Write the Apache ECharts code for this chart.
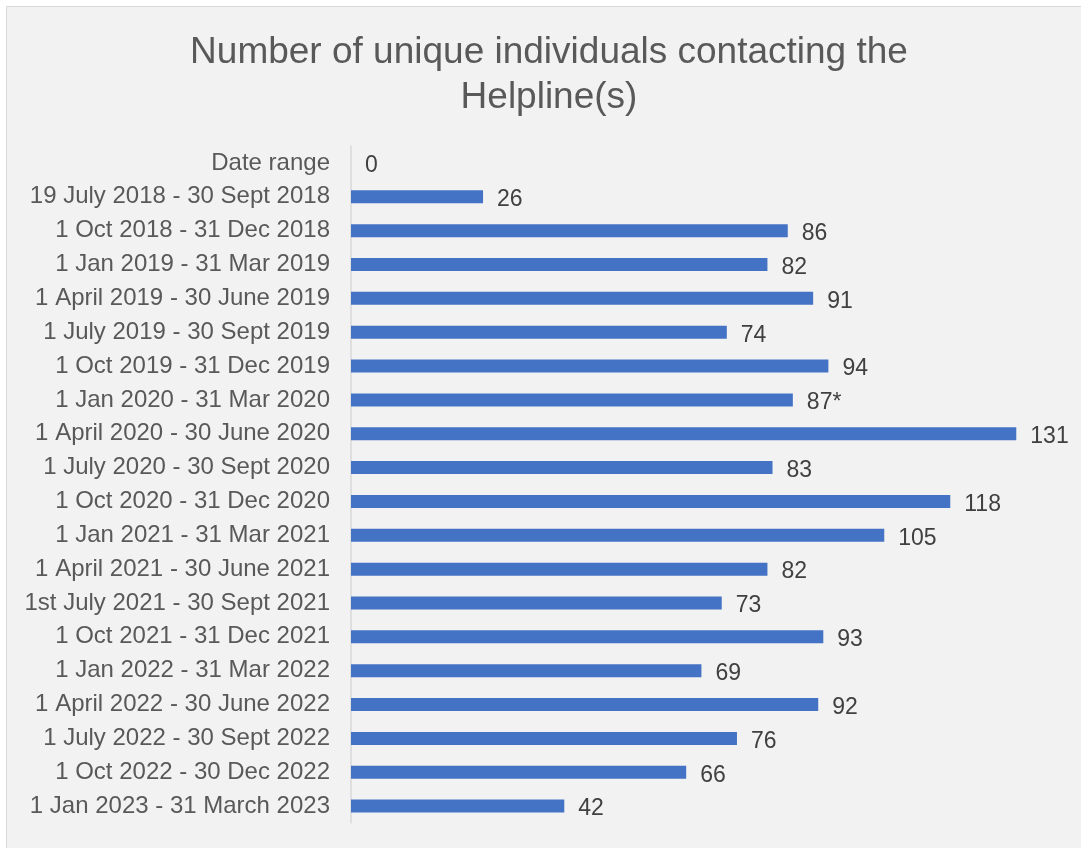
<!DOCTYPE html>
<html>
<head>
<meta charset="utf-8">
<script src="https://cdn.jsdelivr.net/npm/echarts@6/dist/echarts.min.js"></script>
<style>
html,body{margin:0;padding:0;background:#ffffff;}
#frame{position:absolute;left:6px;top:6px;width:1090px;height:850px;background:#f2f2f2;border:1.5px solid #d9d9d9;box-sizing:border-box;}
#chart{position:absolute;left:0;top:0;width:1081px;height:848px;}
</style>
</head>
<body>
<div id="frame"></div>
<div id="chart"></div>
<script>
const titleLines = ['Number of unique individuals contacting the', 'Helpline(s)'];
const categories = [
  'Date range',
  '19 July 2018 - 30 Sept 2018',
  '1 Oct 2018 - 31 Dec 2018',
  '1 Jan 2019 - 31 Mar 2019',
  '1 April 2019 - 30 June 2019',
  '1 July 2019 - 30 Sept 2019',
  '1 Oct 2019 - 31 Dec 2019',
  '1 Jan 2020 - 31 Mar 2020',
  '1 April 2020 - 30 June 2020',
  '1 July 2020 - 30 Sept 2020',
  '1 Oct 2020 - 31 Dec 2020',
  '1 Jan 2021 - 31 Mar 2021',
  '1 April 2021 - 30 June 2021',
  '1st July 2021 - 30 Sept 2021',
  '1 Oct 2021 - 31 Dec 2021',
  '1 Jan 2022 - 31 Mar 2022',
  '1 April 2022 - 30 June 2022',
  '1 July 2022 - 30 Sept 2022',
  '1 Oct 2022 - 30 Dec 2022',
  '1 Jan 2023 - 31 March 2023'
];
const values = [0, 26, 86, 82, 91, 74, 94, 87, 131, 83, 118, 105, 82, 73, 93, 69, 92, 76, 66, 42];
const labelSuffixes = ['', '', '', '', '', '', '', '*', '', '', '', '', '', '', '', '', '', '', '', ''];

const chart = echarts.init(document.getElementById('chart'), null, {renderer: 'canvas'});
const FONT = '"Liberation Sans", Arial, sans-serif';
chart.setOption({
  backgroundColor: 'transparent',
  animation: false,
  graphic: [
    {type: 'text', x: 549, y: 53, style: {text: titleLines[0], fill: '#595959', font: '37px ' + FONT, textAlign: 'center', textVerticalAlign: 'middle'}},
    {type: 'text', x: 549, y: 98, style: {text: titleLines[1], fill: '#595959', font: '37px ' + FONT, textAlign: 'center', textVerticalAlign: 'middle'}}
  ],
  grid: {left: 351, top: 146, height: 677, width: 711, containLabel: false},
  xAxis: {
    type: 'value', min: 0, max: 140, show: false,
    splitLine: {show: false}
  },
  yAxis: {
    type: 'category', data: categories, inverse: true,
    axisLine: {show: true, lineStyle: {color: '#d9d9d9', width: 1.5}},
    axisTick: {show: false},
    axisLabel: {color: '#595959', fontSize: 24, fontFamily: FONT, margin: 21, padding: [4, 0, 0, 0]}
  },
  series: [{
    type: 'bar',
    data: values,
    barWidth: 13,
    itemStyle: {color: '#4472c4'},
    label: {
      show: true, position: 'right', distance: 14, offset: [0, 3],
      color: '#404040', fontSize: 23, fontFamily: FONT,
      formatter: p => p.value + labelSuffixes[p.dataIndex]
    }
  }]
});
</script>
</body>
</html>
